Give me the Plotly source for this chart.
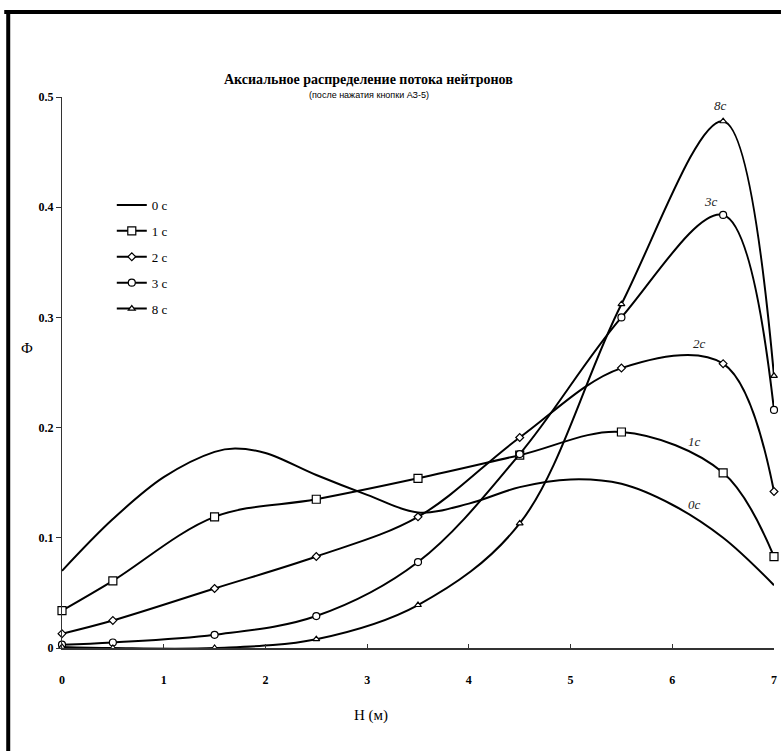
import plotly.graph_objects as go

# ---- data ----
H_pts = [0, 0.5, 1.5, 2.5, 3.5, 4.5, 5.5, 6.5, 7]
H_0c = [0, 0.5, 1, 1.5, 1.7, 2, 2.5, 3, 3.5, 4, 4.5, 5, 5.5, 6, 6.5, 7]
phi_0c = [0.070, 0.117, 0.155, 0.178, 0.181, 0.177, 0.157, 0.139, 0.123, 0.131, 0.146, 0.153, 0.149, 0.130, 0.100, 0.057]
phi_1c = [0.034, 0.061, 0.119, 0.135, 0.154, 0.175, 0.196, 0.159, 0.083]
phi_2c = [0.013, 0.025, 0.054, 0.083, 0.119, 0.191, 0.254, 0.258, 0.142]
phi_3c = [0.003, 0.005, 0.012, 0.029, 0.078, 0.176, 0.300, 0.393, 0.216]
phi_8c = [0.001, 0.000, 0.000, 0.008, 0.039, 0.113, 0.312, 0.478, 0.247]

legend_names = ["0 с", "1 с", "2 с", "3 с", "8 с"]
curve_labels = ["0с", "1с", "2с", "3с", "8с"]
x_ticks = [0, 1, 2, 3, 4, 5, 6, 7]
y_ticks = [0, 0.1, 0.2, 0.3, 0.4, 0.5]
y_ticktext = ["0", "0.1", "0.2", "0.3", "0.4", "0.5"]

title_text = "Аксиальное распределение потока нейтронов"
subtitle_text = "(после нажатия кнопки АЗ-5)"
x_title = "Н (м)"
y_title = "Ф"

SERIF = "Liberation Serif"
line_style = dict(color="black", width=2, shape="spline", smoothing=1.0)

fig = go.Figure()
fig.add_trace(go.Scatter(x=H_0c, y=phi_0c, mode="lines", name=legend_names[0],
                         line=line_style, legendgroup="a"))
series = [
    (phi_1c, legend_names[1], "square", 8, "b"),
    (phi_2c, legend_names[2], "diamond", 6, "c"),
    (phi_3c, legend_names[3], "circle", 7, "d"),
    (phi_8c, legend_names[4], "triangle-up", 6, "e"),
]
for ys, nm, sym, sz, grp in series:
    fig.add_trace(go.Scatter(
        x=H_pts, y=ys, mode="lines+markers", name=nm, legendgroup=grp,
        line=line_style,
        marker=dict(symbol=sym, size=sz, color="white",
                    line=dict(color="black", width=1.2)),
        cliponaxis=False,
    ))

# curve labels (handwritten style)
label_pos = [(6.22, 0.13), (6.22, 0.187), (6.27, 0.276), (6.38, 0.405), (6.47, 0.492)]
annotations = []
for (lx, ly), txt in zip(label_pos, curve_labels):
    annotations.append(dict(x=lx, y=ly, text=txt, showarrow=False, xref="x", yref="y",
                            yanchor="middle",
                            font=dict(family=SERIF, size=13, color="#222", style="italic")))

annotations += [
    dict(x=(370 - 62) / 715, y=(648 - 80) / 551, xref="paper", yref="paper",
         text="<b>" + title_text + "</b>", showarrow=False, yanchor="middle",
         font=dict(family=SERIF, size=14, color="black")),
    dict(x=(370 - 62) / 715, y=(648 - 95) / 551, xref="paper", yref="paper",
         text=subtitle_text, showarrow=False, yanchor="middle",
         font=dict(family="Liberation Sans", size=9, color="black")),
    dict(x=(372 - 62) / 715, y=(648 - 715) / 551, xref="paper", yref="paper",
         text=x_title, showarrow=False, yanchor="middle",
         font=dict(family=SERIF, size=15, color="black")),
    dict(x=(19 - 62) / 715, y=(648 - 348) / 551, xref="paper", yref="paper",
         text=y_title, showarrow=False, yanchor="middle",
         font=dict(family=SERIF, size=15, color="black")),
]

shapes = [
    # scanned frame: top and left thick borders
    dict(type="line", xref="paper", yref="paper",
         x0=(4 - 62) / 715, x1=(784 - 62) / 715,
         y0=(648 - 12) / 551, y1=(648 - 12) / 551,
         line=dict(color="black", width=4)),
    dict(type="line", xref="paper", yref="paper",
         x0=(8 - 62) / 715, x1=(8 - 62) / 715,
         y0=(648 - 10) / 551, y1=(648 - 760) / 551,
         line=dict(color="black", width=4)),
]

fig.update_layout(
    width=784, height=751,
    margin=dict(l=62, r=7, t=97, b=103),
    paper_bgcolor="white", plot_bgcolor="white",
    showlegend=True,
    legend=dict(x=(112 - 62) / 715, y=(648 - 190) / 551, xanchor="left", yanchor="top",
                font=dict(family=SERIF, size=13, color="black"),
                bgcolor="rgba(0,0,0,0)", traceorder="grouped", tracegroupgap=6,
                itemwidth=30),
    annotations=annotations,
    shapes=shapes,
    xaxis=dict(range=[0, 7], tickvals=x_ticks, ticktext=["<b>%d</b>" % v for v in x_ticks],
               showgrid=False, zeroline=False, showline=True, linecolor="#333", linewidth=1.5,
               ticks="inside", ticklen=4, tickcolor="#333",
               ticklabelstandoff=20,
               tickfont=dict(family=SERIF, size=12, color="black")),
    yaxis=dict(range=[0, 0.5], tickvals=y_ticks, ticktext=["<b>%s</b>" % t for t in y_ticktext],
               showgrid=False, zeroline=False, showline=True, linecolor="#333", linewidth=1.2,
               ticks="outside", ticklen=5, tickcolor="#333",
               tickfont=dict(family=SERIF, size=12, color="black")),
)

fig.write_html("out.html", config={"displayModeBar": False},
               post_script="document.body.style.margin='0';document.body.style.overflow='hidden';")
